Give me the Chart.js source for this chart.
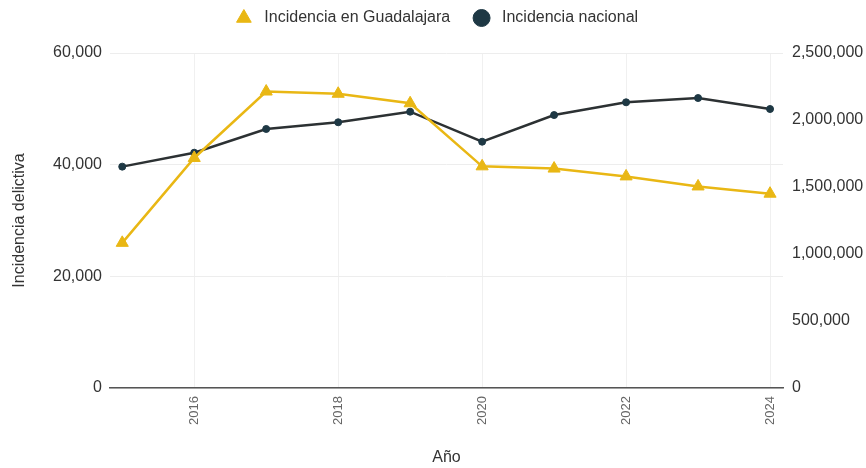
<!DOCTYPE html>
<html lang="es">
<head>
<meta charset="UTF-8">
<title>Incidencia delictiva</title>
<script src="https://cdn.jsdelivr.net/npm/chart.js"></script>
<style>
    html, body { margin: 0; padding: 0; background: #fff; }
    #wrap { width: 866px; height: 468px; }
</style>
</head>
<body>
<div id="wrap"><canvas id="chart" width="866" height="468"></canvas></div>
<script>
const anios = [2015, 2016, 2017, 2018, 2019, 2020, 2021, 2022, 2023, 2024];
const guadalajara = [26000, 41200, 53100, 52700, 51000, 39700, 39300, 37900, 36100, 34800];
const nacional = [1652000, 1756000, 1933000, 1983000, 2062000, 1838000, 2037000, 2132000, 2164000, 2082000];
const ticksAnio = [2016, 2018, 2020, 2022, 2024];

const amarillo = '#E9B714';
const oscuro = '#1E3844';
const fuente = '"Liberation Sans", Arial, sans-serif';

// leyenda mas alta para que el area del grafico empiece en y=53,
// y corrida un poco a la derecha como en el original
const ajusteLeyenda = {
    id: 'ajusteLeyenda',
    beforeInit(chart) {
        const fit = chart.legend.fit;
        chart.legend.fit = function () {
            fit.bind(chart.legend)();
            this.height = 53;
        };
    },
    afterLayout(chart) {
        chart.legend.left += 4;
        chart.legend.right += 4;
    }
};

const ctx = document.getElementById('chart').getContext('2d');
const chart = new Chart(ctx, {
    type: 'line',
    data: {
        datasets: [
            {
                // espacios para separar un poco mas los items de la leyenda
                label: ' Incidencia en Guadalajara   ',
                data: anios.map((a, i) => ({x: a, y: guadalajara[i]})),
                yAxisID: 'y',
                borderColor: amarillo,
                backgroundColor: amarillo,
                borderWidth: 2.5,
                pointStyle: 'triangle',
                pointRadius: 7,
                pointHoverRadius: 7,
                pointBorderWidth: 1,
                tension: 0
            },
            {
                label: ' Incidencia nacional',
                data: anios.map((a, i) => ({x: a, y: nacional[i]})),
                yAxisID: 'y2',
                borderColor: '#2c3133',
                backgroundColor: oscuro,
                pointBorderColor: oscuro,
                borderWidth: 2.5,
                pointStyle: 'circle',
                pointRadius: 3.5,
                pointHoverRadius: 3.5,
                pointBorderWidth: 1,
                tension: 0
            }
        ]
    },
    options: {
        responsive: false,
        animation: false,
        layout: { padding: 0 },
        plugins: {
            legend: {
                position: 'top',
                labels: {
                    usePointStyle: true,
                    boxHeight: 12,
                    padding: 10,
                    color: '#333',
                    font: { family: fuente, size: 16 }
                }
            },
            tooltip: { enabled: false }
        },
        scales: {
            x: {
                type: 'linear',
                min: 2014.83,
                max: 2024.18,
                afterBuildTicks: s => { s.ticks = ticksAnio.map(v => ({value: v})); },
                afterFit: s => { s.height = 80; },
                ticks: {
                    minRotation: 90, maxRotation: 90,
                    color: '#666',
                    padding: 8,
                    font: { family: fuente, size: 13 },
                    callback: v => String(v)
                },
                grid: { color: '#f0f0f0', drawTicks: false },
                border: { color: '#555', width: 1.5 },
                title: { display: true, text: 'Año', color: '#333', font: { family: fuente, size: 16 }, padding: { top: 4, bottom: 1 } }
            },
            y: {
                position: 'left',
                min: 0, max: 60000,
                afterFit: s => { s.width = 110; },
                ticks: { stepSize: 20000, color: '#333', padding: 8, font: { family: fuente, size: 16 } },
                grid: { color: '#ededed', drawTicks: false },
                border: { display: false },
                title: { display: true, text: 'Incidencia delictiva', color: '#333', font: { family: fuente, size: 16 }, padding: { top: 10, bottom: 4 } }
            },
            y2: {
                position: 'right',
                min: 0, max: 2500000,
                afterFit: s => { s.width = 83; },
                ticks: { stepSize: 500000, color: '#333', padding: 9, font: { family: fuente, size: 16 } },
                grid: { drawOnChartArea: false, drawTicks: false },
                border: { display: false }
            }
        }
    },
    plugins: [ajusteLeyenda]
});
</script>
</body>
</html>
